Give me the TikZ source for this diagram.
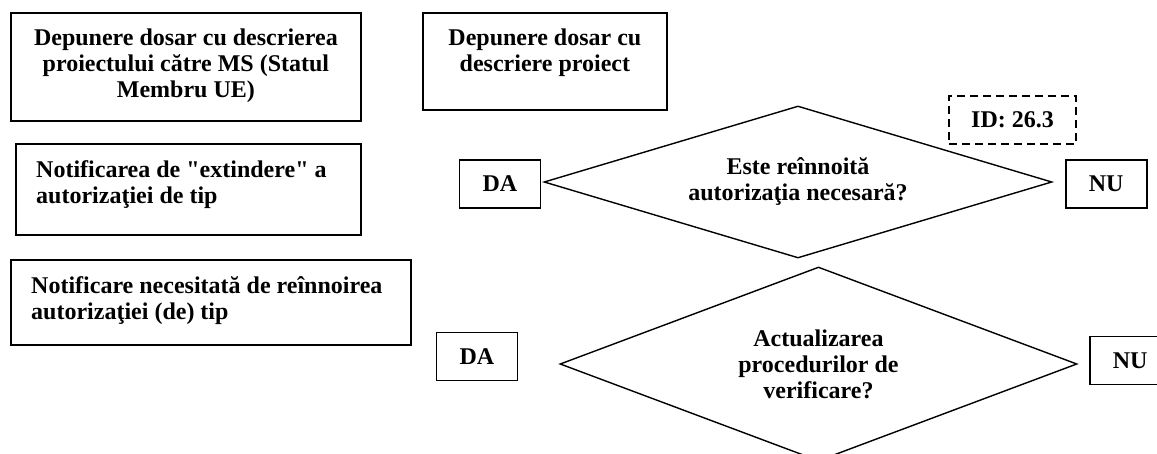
\documentclass[tikz,border=0pt]{standalone}
\usepackage{fontspec}
\setmainfont{Liberation Serif}
\usetikzlibrary{positioning,shapes.geometric}

\tikzset{
  box/.style={draw, line width=1.8pt, inner sep=0pt},
  txt/.style={inner sep=0pt, font=\bfseries\fontsize{24}{26}\selectfont},
  decis/.style={draw, diamond, line width=1.4pt, inner sep=0pt},
  ans/.style={box, minimum width=81pt, minimum height=48pt, font=\bfseries\fontsize{24}{26}\selectfont},
  idbox/.style={draw, dash pattern=on 8pt off 5pt, line width=1.4pt, minimum width=127pt, minimum height=48pt, inner sep=0pt, font=\bfseries\fontsize{24}{26}\selectfont}
}

\begin{document}
\begin{tikzpicture}[x=1pt,y=-1pt]
\useasboundingbox (0,0) rectangle (1157,454);

% casete din stanga
\node[box, anchor=north west, minimum width=350pt, minimum height=108pt] (dosarms) at (10,12) {};
\node[txt, align=center, anchor=north] (dosarmstxt) at ([yshift=-17pt]dosarms.north) {Depunere dosar cu descrierea\\proiectului către MS (Statul\\Membru UE)};

\node[box, anchor=north west, minimum width=244pt, minimum height=97pt] (dosar) at (422,12) {};
\node[txt, align=center, anchor=north] (dosartxt) at ([yshift=-17pt]dosar.north) {Depunere dosar cu\\descriere proiect};

\node[box, anchor=north west, minimum width=345pt, minimum height=91pt] (extind) at (15,143) {};
\node[txt, align=left, anchor=north west] (extindtxt) at ([xshift=21pt,yshift=-17pt]extind.north west) {Notificarea de \textquotedbl extindere\textquotedbl\ a\\autorizaţiei de tip};

\node[box, anchor=north west, minimum width=400pt, minimum height=85pt] (reinn) at (10,259) {};
\node[txt, align=left, anchor=north west] (reinntxt) at ([xshift=21pt,yshift=-17pt]reinn.north west) {Notificare necesitată de reînnoirea\\autorizaţiei (de) tip};

% decizii
\node[decis, minimum width=508pt, minimum height=152pt] (dec1) at (798,182) {};
\node[txt, align=center] (dec1txt) at (dec1) {Este reînnoită\\autorizaţia necesară?};
\node[ans, left=2pt of dec1, yshift=-2pt] (da1) {DA};
\node[ans, right=12pt of dec1, yshift=-2pt] (nu1) {NU};
\node[idbox] (id) at (1012.5,120) {ID: 26.3};

\node[decis, minimum width=517pt, minimum height=194pt] (dec2) at (818.5,364) {};
\node[txt, align=center] (dec2txt) at (dec2) {Actualizarea\\procedurilor de\\verificare?};
\node[ans, left=41pt of dec2, yshift=7.5pt] (da2) {DA};
\node[ans, right=11pt of dec2, yshift=3.5pt] (nu2) {NU};
\end{tikzpicture}
\end{document}
